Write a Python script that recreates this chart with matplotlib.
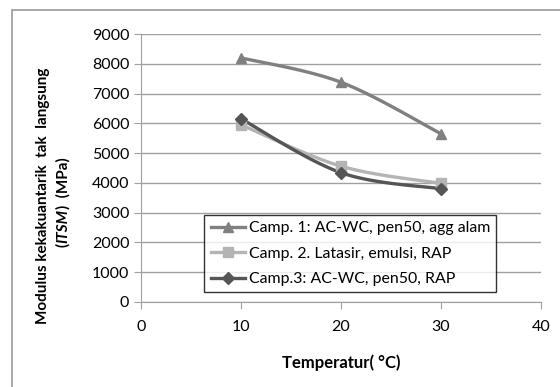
import numpy as np
import matplotlib.pyplot as plt
from matplotlib.patches import Rectangle

plt.rcParams['font.family'] = ['Lato', 'DejaVu Sans']

suhu = [10, 20, 30]
camp1 = [8200, 7380, 5650]
camp2 = [5950, 4560, 3980]
camp3 = [6150, 4340, 3800]
label1 = 'Camp. 1: AC-WC, pen50, agg alam'
label2 = 'Camp. 2. Latasir, emulsi, RAP'
label3 = 'Camp.3: AC-WC, pen50, RAP'


def smooth(x, y, n=40):
    # bezier smoothing similar to spreadsheet "smoothed line"
    x = np.asarray(x, float)
    y = np.asarray(y, float)
    xs, ys = [], []
    t = np.linspace(0, 1, n)
    for i in range(len(x) - 1):
        p0 = np.array([x[max(i - 1, 0)], y[max(i - 1, 0)]])
        p1 = np.array([x[i], y[i]])
        p2 = np.array([x[i + 1], y[i + 1]])
        p3 = np.array([x[min(i + 2, len(x) - 1)], y[min(i + 2, len(x) - 1)]])
        c1 = p1 + (p2 - p0) / 6
        c2 = p2 - (p3 - p1) / 6
        pts = ((1 - t) ** 3)[:, None] * p1 + (3 * (1 - t) ** 2 * t)[:, None] * c1 \
            + (3 * (1 - t) * t ** 2)[:, None] * c2 + (t ** 3)[:, None] * p2
        xs.extend(pts[:, 0])
        ys.extend(pts[:, 1])
    return xs, ys


fig = plt.figure(figsize=(5.6, 3.87), dpi=100)
ax = fig.add_axes([0.252, 0.22, 0.714, 0.692])

fig.patches.append(Rectangle((12 / 560, -0.1), 1.2, (377 + 38.7) / 387,
                             transform=fig.transFigure, fill=False,
                             edgecolor='#999999', linewidth=1.2))

series = [(camp1, '#808080', '^', 7.5, label1),
          (camp2, '#b4b4b4', 's', 7, label2),
          (camp3, '#555555', 'D', 6, label3)]
for vals, col, mk, ms, lab in series:
    sx, sy = smooth(suhu, vals)
    ax.plot(sx, sy, color=col, linewidth=2.4, zorder=3)
    ax.plot(suhu, vals, linestyle='none', marker=mk, markersize=ms,
            color=col, zorder=4)
    ax.plot([], [], color=col, linewidth=2.4, marker=mk, markersize=ms, label=lab)

ax.set_xlim(0, 40)
ax.set_ylim(0, 9000)
ax.set_xticks([0, 10, 20, 30, 40])
ax.set_yticks(range(0, 9001, 1000))
ax.grid(axis='y', color='#a0a0a0', linewidth=1)
ax.set_axisbelow(True)
for s in ['top', 'right']:
    ax.spines[s].set_visible(False)
for s in ['left', 'bottom']:
    ax.spines[s].set_color('#a0a0a0')
ax.tick_params(colors='#a0a0a0', labelcolor='black', labelsize=11.5,
               length=5, direction='out')
ax.tick_params(axis='x', pad=8)

ax.set_xlabel('Temperatur( °C)', fontsize=12, fontweight='bold', labelpad=15)

fig.text(0.077, 0.494, 'Modulus kekakuantarik  tak  langsung', rotation=90,
         fontsize=11, fontweight='bold', ha='center', va='center')
t1 = fig.text(0.1125, 0.362, '(', rotation=90, fontsize=11, fontweight='bold',
              ha='center', va='bottom')
t2 = fig.text(0.1125, 0.4, 'ITSM', rotation=90, fontsize=11, fontweight='bold',
              fontstyle='italic', ha='center', va='bottom')
fig.canvas.draw()
r = fig.canvas.get_renderer()
bb = t1.get_window_extent(r).transformed(fig.transFigure.inverted())
t2.set_position((0.1125, bb.y1))
fig.canvas.draw()
bb = t2.get_window_extent(r).transformed(fig.transFigure.inverted())
fig.text(0.1125, bb.y1, ')  (MPa)', rotation=90, fontsize=11, fontweight='bold',
         ha='center', va='bottom')

leg = ax.legend(loc='lower left', bbox_to_anchor=(0.158, 0.035), fontsize=11.4,
                frameon=True, fancybox=False, borderpad=0.4, labelspacing=0.72,
                handlelength=2.2, handletextpad=0.2, borderaxespad=0)
leg.get_frame().set_edgecolor('black')
leg.get_frame().set_linewidth(1)

fig.savefig('out.png', dpi=100)
